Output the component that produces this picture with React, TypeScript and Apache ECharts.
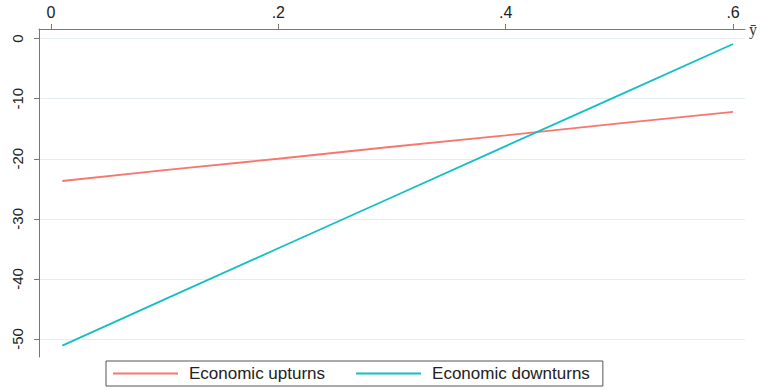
import React, { useEffect, useRef } from "react";
import * as echarts from "echarts";

const xValues = [0.01, 0.1, 0.2, 0.3, 0.4, 0.5, 0.6];
const upturns = [-23.7, -21.9, -20.0, -18.0, -16.1, -14.1, -12.2];
const downturns = [-51.1, -43.4, -34.9, -26.4, -17.9, -9.4, -0.9];
const xTicks = [0, 0.2, 0.4, 0.6];
const yTicks = [0, -10, -20, -30, -40, -50];
const seriesNames = ["Economic upturns", "Economic downturns"];

export default function App() {
  const ref = useRef<HTMLDivElement>(null);
  useEffect(() => {
    if (!ref.current) return;
    const chart = echarts.init(ref.current, null, { renderer: "svg" });
    const fmtX = (v: number) => (v === 0 ? "0" : v.toFixed(1).replace(/^0/, ""));
    chart.setOption({
      animation: false,
      backgroundColor: "#ffffff",
      grid: { left: 39, top: 29, right: 12, bottom: 33, containLabel: false },
      xAxis: {
        type: "value",
        position: "top",
        min: -0.0105,
        max: 0.6105,
        name: "ȳ",
        nameLocation: "end",
        nameGap: 4,
        nameTextStyle: { fontFamily: "Liberation Serif", fontSize: 16, color: "#333", padding: [4, 0, 0, 0] },
        axisLine: { show: true, onZero: false, lineStyle: { color: "#777", width: 1 } },
        axisTick: { show: true, length: 5, customValues: xTicks, lineStyle: { color: "#777" } },
        axisLabel: {
          customValues: xTicks,
          formatter: fmtX,
          margin: 9,
          fontFamily: "Liberation Sans",
          fontSize: 16,
          color: "#222",
        },
        splitLine: { show: false },
      },
      yAxis: {
        type: "value",
        min: -53,
        max: 1.6,
        axisLine: { show: true, onZero: false, lineStyle: { color: "#777", width: 1 } },
        axisTick: { show: true, length: 5, customValues: yTicks, lineStyle: { color: "#777" } },
        axisLabel: {
          customValues: yTicks,
          rotate: 90,
          margin: 14,
          fontFamily: "Liberation Sans",
          fontSize: 15,
          color: "#222",
        },
        splitLine: { show: false },
      },
      legend: {
        data: seriesNames,
        left: 106,
        top: 361,
        orient: "horizontal",
        icon: "rect",
        padding: [4, 13, 4, 7],
        itemWidth: 65,
        itemHeight: 2,
        itemGap: 31,
        borderColor: "#555",
        borderWidth: 1,
        borderRadius: 0,
        textStyle: { fontFamily: "Liberation Sans", fontSize: 17, color: "#222", padding: [0, 0, 0, 6] },
      },
      series: [
        {
          name: "grid",
          type: "line",
          data: [],
          z: 0,
          silent: true,
          markLine: {
            silent: true,
            z: 0,
            symbol: "none",
            label: { show: false },
            lineStyle: { color: "#e4eef0", width: 1, type: "solid" },
            data: yTicks.map((v) => ({ yAxis: v })),
          },
        },
        {
          name: seriesNames[0],
          type: "line",
          data: xValues.map((x, i) => [x, upturns[i]]),
          symbol: "none",
          showSymbol: false,
          z: 3,
          lineStyle: { color: "#f8766d", width: 1.8 },
          itemStyle: { color: "#f8766d" },
        },
        {
          name: seriesNames[1],
          type: "line",
          data: xValues.map((x, i) => [x, downturns[i]]),
          symbol: "none",
          showSymbol: false,
          z: 3,
          lineStyle: { color: "#12bfc5", width: 1.8 },
          itemStyle: { color: "#12bfc5" },
        },
      ],
    });
    return () => chart.dispose();
  }, []);
  return <div ref={ref} style={{ width: 760, height: 390, position: "absolute", left: 0, top: 0 }} />;
}
